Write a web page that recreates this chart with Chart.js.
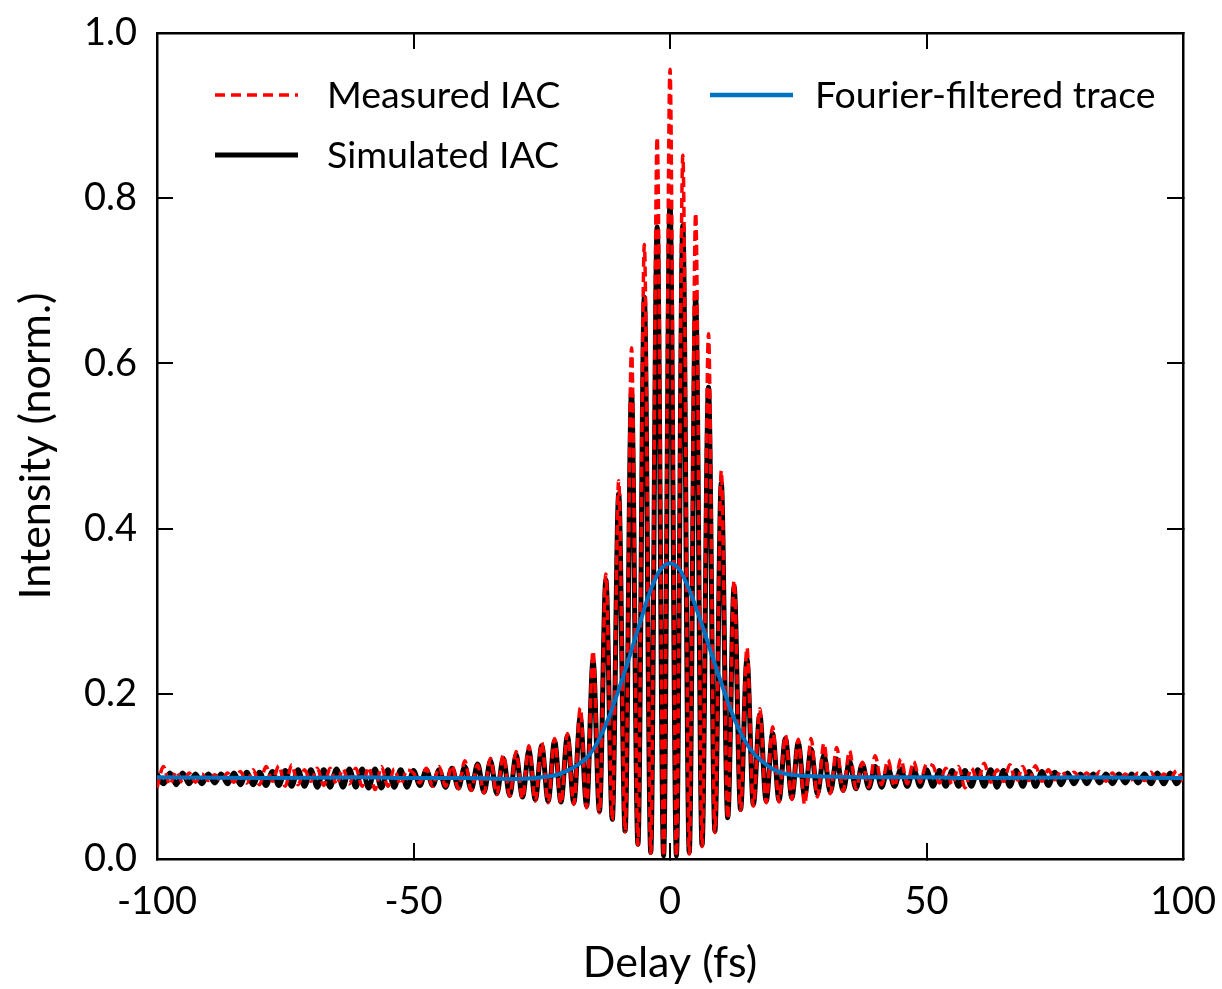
<!DOCTYPE html>
<html>
<head>
<meta charset="utf-8">
<title>IAC</title>
<script src="https://cdn.jsdelivr.net/npm/chart.js@4.4.1/dist/chart.umd.min.js"></script>
<style>
  html, body { margin: 0; padding: 0; background: #fff; }
  #box { width: 1222px; height: 989px; }
</style>
</head>
<body>
<div id="box"><canvas id="grafico" width="1222" height="989"></canvas></div>
<script>
// delay positions (fs) of the fringe maxima / minima
const delays = [
  -100, -98.75, -97.5, -96.25, -95, -93.75, -92.5, -91.25,
  -90, -88.75, -87.5, -86.25, -85, -83.75, -82.5, -81.25,
  -80, -78.75, -77.5, -76.25, -75, -73.75, -72.5, -71.25,
  -70, -68.75, -67.5, -66.25, -65, -63.75, -62.5, -61.25,
  -60, -58.75, -57.5, -56.25, -55, -53.75, -52.5, -51.25,
  -50, -48.75, -47.5, -46.25, -45, -43.75, -42.5, -41.25,
  -40, -38.75, -37.5, -36.25, -35, -33.75, -32.5, -31.25,
  -30, -28.75, -27.5, -26.25, -25, -23.75, -22.5, -21.25,
  -20, -18.75, -17.5, -16.25, -15, -13.75, -12.5, -11.25,
  -10, -8.75, -7.5, -6.25, -5, -3.75, -2.5, -1.25,
  0,
  1.25, 2.5, 3.75, 5, 6.25, 7.5, 8.75, 10,
  11.25, 12.5, 13.75, 15, 16.25, 17.5, 18.75, 20,
  21.25, 22.5, 23.75, 25, 26.25, 27.5, 28.75, 30,
  31.25, 32.5, 33.75, 35, 36.25, 37.5, 38.75, 40,
  41.25, 42.5, 43.75, 45, 46.25, 47.5, 48.75, 50,
  51.25, 52.5, 53.75, 55, 56.25, 57.5, 58.75, 60,
  61.25, 62.5, 63.75, 65, 66.25, 67.5, 68.75, 70,
  71.25, 72.5, 73.75, 75, 76.25, 77.5, 78.75, 80,
  81.25, 82.5, 83.75, 85, 86.25, 87.5, 88.75, 90,
  91.25, 92.5, 93.75, 95, 96.25, 97.5, 98.75, 100
];

const measured = [
  0.086, 0.112, 0.090, 0.106, 0.092, 0.104, 0.093, 0.103,
  0.095, 0.102, 0.094, 0.104, 0.093, 0.106, 0.092, 0.108,
  0.090, 0.112, 0.094, 0.113, 0.088, 0.114, 0.090, 0.108,
  0.094, 0.110, 0.089, 0.110, 0.090, 0.109, 0.091, 0.110,
  0.088, 0.111, 0.084, 0.112, 0.088, 0.109, 0.090, 0.108,
  0.104, 0.092, 0.110, 0.088, 0.112, 0.088, 0.113, 0.085,
  0.119, 0.083, 0.114, 0.080, 0.122, 0.078, 0.126, 0.076,
  0.130, 0.073, 0.137, 0.070, 0.141, 0.068, 0.146, 0.067,
  0.152, 0.066, 0.183, 0.062, 0.252, 0.056, 0.345, 0.047,
  0.458, 0.033, 0.619, 0.017, 0.744, 0.007, 0.874, 0.003,
  0.956,
  0.003, 0.852, 0.006, 0.782, 0.015, 0.636, 0.032, 0.470,
  0.049, 0.337, 0.059, 0.256, 0.064, 0.182, 0.068, 0.160,
  0.069, 0.150, 0.072, 0.145, 0.066, 0.146, 0.075, 0.140,
  0.079, 0.135, 0.082, 0.131, 0.085, 0.117, 0.087, 0.125,
  0.090, 0.120, 0.088, 0.121, 0.091, 0.118, 0.093, 0.115,
  0.113, 0.092, 0.110, 0.090, 0.112, 0.086, 0.110, 0.095,
  0.116, 0.093, 0.108, 0.094, 0.114, 0.092, 0.112, 0.095,
  0.113, 0.094, 0.108, 0.096, 0.107, 0.098, 0.105, 0.098,
  0.104, 0.095, 0.106, 0.094, 0.104, 0.095, 0.103, 0.096,
  0.104, 0.095, 0.105, 0.094, 0.103, 0.097, 0.107, 0.094
];

const simulated = [
  0.103, 0.091, 0.104, 0.090, 0.104, 0.091, 0.103, 0.091,
  0.103, 0.092, 0.103, 0.091, 0.104, 0.090, 0.105, 0.090,
  0.105, 0.089, 0.106, 0.089, 0.107, 0.088, 0.108, 0.088,
  0.108, 0.087, 0.108, 0.087, 0.109, 0.087, 0.109, 0.087,
  0.109, 0.086, 0.109, 0.086, 0.108, 0.087, 0.108, 0.087,
  0.107, 0.089, 0.108, 0.089, 0.108, 0.087, 0.110, 0.086,
  0.112, 0.084, 0.115, 0.081, 0.119, 0.079, 0.122, 0.077,
  0.126, 0.075, 0.131, 0.072, 0.137, 0.070, 0.143, 0.069,
  0.149, 0.068, 0.172, 0.064, 0.240, 0.058, 0.338, 0.048,
  0.442, 0.034, 0.565, 0.018, 0.680, 0.008, 0.765, 0.004,
  0.795,
  0.004, 0.767, 0.008, 0.680, 0.017, 0.571, 0.034, 0.455,
  0.050, 0.330, 0.060, 0.242, 0.066, 0.175, 0.070, 0.152,
  0.071, 0.146, 0.074, 0.141, 0.076, 0.133, 0.079, 0.126,
  0.081, 0.121, 0.083, 0.118, 0.085, 0.115, 0.086, 0.112,
  0.087, 0.110, 0.088, 0.109, 0.088, 0.109, 0.088, 0.108,
  0.088, 0.107, 0.088, 0.107, 0.088, 0.107, 0.088, 0.108,
  0.088, 0.108, 0.087, 0.107, 0.088, 0.107, 0.088, 0.106,
  0.088, 0.106, 0.089, 0.105, 0.090, 0.104, 0.091, 0.103,
  0.091, 0.103, 0.092, 0.103, 0.091, 0.103, 0.092, 0.103,
  0.092, 0.103, 0.091, 0.104, 0.091, 0.104, 0.091, 0.103
];

// fourier filtered trace (smooth envelope)
const fourierDelays = [-100, -80, -60, -50, -40, -30, -25, -22, -20, -18, -16, -14, -12, -10, -8, -6, -4, -2,
  0, 2, 4, 6, 8, 10, 12, 14, 16, 18, 20, 22, 25, 30, 40, 50, 60, 80, 100];
const fourierTrace = [0.099, 0.098, 0.099, 0.098, 0.098, 0.097, 0.099, 0.102, 0.107, 0.114, 0.124, 0.143, 0.170, 0.205, 0.243, 0.283, 0.322, 0.349,
  0.358, 0.349, 0.322, 0.288, 0.250, 0.213, 0.178, 0.150, 0.130, 0.118, 0.109, 0.104, 0.101, 0.100, 0.099, 0.099, 0.098, 0.099, 0.098];

const labels = ['Measured IAC', 'Simulated IAC', 'Fourier-filtered trace'];
const xTicks = [-100, -50, 0, 50, 100];
const yTicks = [0, 0.2, 0.4, 0.6, 0.8, 1.0];

const rosso = '#ff0000';
const nero = '#000000';
const blu = '#0070c0';

function punti(xs, ys) {
  return xs.map((x, i) => ({ x: x, y: ys[i] }));
}

Chart.defaults.font.family = 'Lato, "Open Sans", sans-serif';
Chart.defaults.color = '#000';

// legend drawn inside the plot, like the original
const legendaInterna = {
  id: 'legendaInterna',
  afterDraw(chart) {
    const c = chart.ctx;
    const voci = [
      { testo: labels[0], col: rosso, w: 3.5, dash: [10, 6], x: 215, y: 95, tx: 327 },
      { testo: labels[1], col: nero, w: 5, dash: [], x: 215, y: 155, tx: 327 },
      { testo: labels[2], col: blu, w: 4.5, dash: [], x: 710, y: 95, tx: 815 }
    ];
    c.save();
    c.font = '37.5px Lato, "Open Sans", sans-serif';
    c.textBaseline = 'alphabetic';
    voci.forEach(v => {
      c.beginPath();
      c.setLineDash(v.dash);
      c.strokeStyle = v.col;
      c.lineWidth = v.w;
      c.moveTo(v.x, v.y);
      c.lineTo(v.x + 83, v.y);
      c.stroke();
      c.setLineDash([]);
      c.fillStyle = '#000';
      c.fillText(v.testo, v.tx, v.y + 13);
    });
    c.restore();
  }
};

const griglia = {
  drawOnChartArea: false,
  drawTicks: true,
  tickLength: -16,
  lineWidth: 2,
  color: '#000'
};
const bordo = { display: true, width: 2.5, color: '#000' };

// the tick padding would otherwise be added around the plot
function senzaMargini(s) {
  s.paddingTop = 0;
  s.paddingBottom = 0;
  s.paddingLeft = 0;
  s.paddingRight = 0;
}

let g = document.getElementById('grafico');

new Chart(g, {
  type: 'line',
  data: {
    datasets: [
      {
        label: labels[2],
        data: punti(fourierDelays, fourierTrace),
        borderColor: blu,
        borderWidth: 4,
        pointRadius: 0,
        cubicInterpolationMode: 'monotone',
        order: 0
      },
      {
        label: labels[0],
        data: punti(delays, measured),
        borderColor: rosso,
        borderWidth: 3.5,
        borderDash: [10, 5],
        pointRadius: 0,
        cubicInterpolationMode: 'monotone',
        order: 1
      },
      {
        label: labels[1],
        data: punti(delays, simulated),
        borderColor: nero,
        borderWidth: 5,
        pointRadius: 0,
        cubicInterpolationMode: 'monotone',
        order: 2
      }
    ]
  },
  options: {
    responsive: false,
    devicePixelRatio: 1,
    animation: false,
    layout: { padding: 0 },
    plugins: {
      legend: { display: false },
      tooltip: { enabled: false }
    },
    scales: {
      x: {
        type: 'linear',
        position: 'bottom',
        min: -100,
        max: 100,
        afterBuildTicks: s => { s.ticks = xTicks.map(v => ({ value: v })); },
        ticks: { font: { size: 38 }, padding: 36, maxRotation: 0, autoSkip: false },
        grid: griglia,
        border: bordo,
        title: { display: true, text: 'Delay (fs)', font: { size: 43 }, padding: { top: 0, bottom: 0 } },
        afterFit: s => { s.height = 130; senzaMargini(s); }
      },
      x2: {
        type: 'linear',
        axis: 'x',
        position: 'top',
        min: -100,
        max: 100,
        afterBuildTicks: s => { s.ticks = xTicks.map(v => ({ value: v })); },
        ticks: { display: false },
        grid: griglia,
        border: bordo,
        afterFit: s => { s.height = 33; senzaMargini(s); }
      },
      y: {
        type: 'linear',
        position: 'left',
        min: 0,
        max: 1,
        afterBuildTicks: s => { s.ticks = yTicks.map(v => ({ value: v })); },
        ticks: { font: { size: 38 }, padding: 36, callback: v => v.toFixed(1) },
        grid: griglia,
        border: bordo,
        title: { display: true, text: 'Intensity (norm.)', font: { size: 43 }, padding: { top: 10, bottom: 0 } },
        afterFit: s => { s.width = 157; senzaMargini(s); }
      },
      y2: {
        type: 'linear',
        axis: 'y',
        position: 'right',
        min: 0,
        max: 1,
        afterBuildTicks: s => { s.ticks = yTicks.map(v => ({ value: v })); },
        ticks: { display: false },
        grid: griglia,
        border: bordo,
        afterFit: s => { s.width = 39; senzaMargini(s); }
      }
    }
  },
  plugins: [legendaInterna]
});
</script>
</body>
</html>
